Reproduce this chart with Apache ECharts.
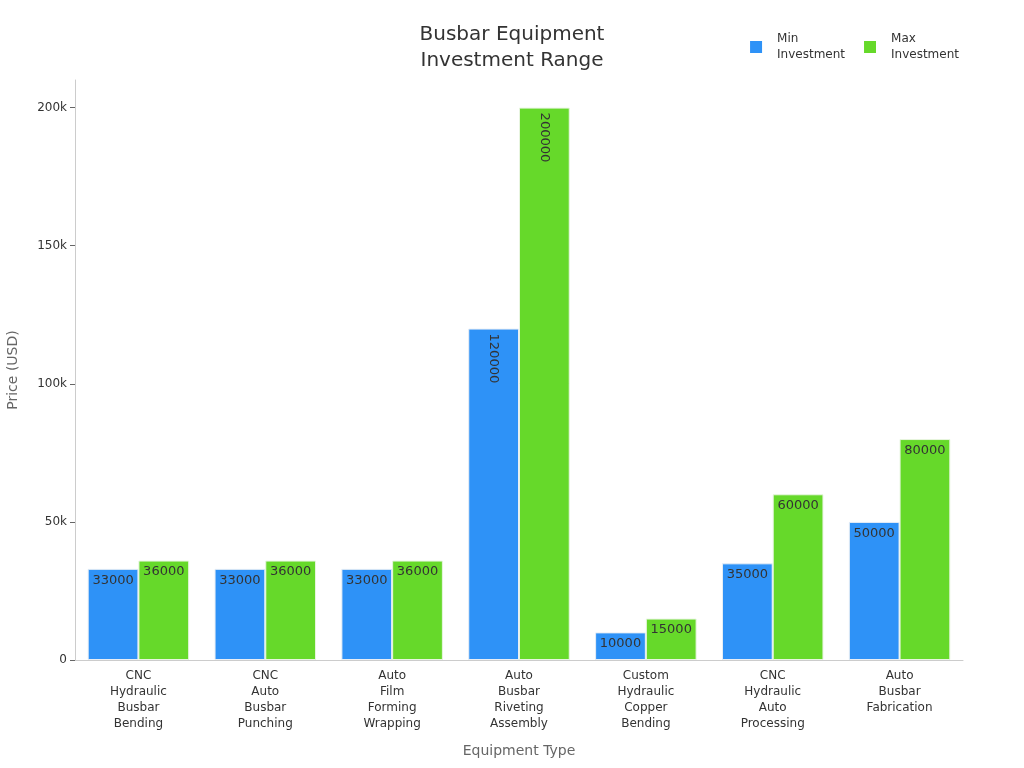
<!DOCTYPE html>
<html>
<head>
<meta charset="utf-8">
<script src="https://cdn.jsdelivr.net/npm/echarts@6/dist/echarts.min.js"></script>
<style>html,body{margin:0;padding:0;background:#fff}#c{width:1024px;height:768px}</style>
</head>
<body>
<div id="c"></div>
<script>
const categories = [
  "CNC Hydraulic Busbar Bending",
  "CNC Auto Busbar Punching",
  "Auto Film Forming Wrapping",
  "Auto Busbar Riveting Assembly",
  "Custom Hydraulic Copper Bending",
  "CNC Hydraulic Auto Processing",
  "Auto Busbar Fabrication"
];
const minInvestment = [33000, 33000, 33000, 120000, 10000, 35000, 50000];
const maxInvestment = [36000, 36000, 36000, 200000, 15000, 60000, 80000];
const seriesNames = ["Min Investment", "Max Investment"];
const yTickValues = [0, 50000, 100000, 150000, 200000];
const yMax = 210000;

const font = "DejaVu Sans";
function toItems(arr) {
  return arr.map(v => {
    if (v >= 100000) {
      return { value: v, label: { rotate: -90, align: 'left', verticalAlign: 'middle', distance: 5 } };
    }
    return { value: v };
  });
}
const chart = echarts.init(document.getElementById('c'));
chart.setOption({
  backgroundColor: '#fff',
  textStyle: { fontFamily: font },
  title: {
    text: 'Busbar Equipment\nInvestment Range',
    left: 'center', top: 17,
    textStyle: { fontFamily: font, fontSize: 20, fontWeight: 'normal', color: '#333', lineHeight: 26 }
  },
  legend: {
    data: seriesNames,
    right: 60, top: 26,
    icon: 'rect', itemWidth: 12, itemHeight: 12, itemGap: 19,
    itemStyle: { borderWidth: 0 },
    formatter: n => n.replace(' ', '\n'),
    textStyle: { fontFamily: font, fontSize: 12, color: '#333', lineHeight: 16, padding: [0, 0, 0, 10] }
  },
  grid: { left: 75, right: 61, top: 80, bottom: 108, outerBoundsMode: 'none', containLabel: false },
  xAxis: {
    type: 'category',
    data: categories,
    name: 'Equipment Type',
    nameLocation: 'middle', nameGap: 84,
    nameTextStyle: { fontFamily: font, fontSize: 14, color: '#666' },
    axisLine: { lineStyle: { color: '#ccc' } },
    axisTick: { alignWithLabel: true, lineStyle: { color: '#666' } },
    axisLabel: { interval: 0, formatter: v => v.split(' ').join('\n'), color: '#333', fontSize: 12, lineHeight: 16, fontFamily: font }
  },
  yAxis: {
    type: 'value',
    min: 0, max: yMax,
    name: 'Price (USD)',
    nameLocation: 'middle', nameGap: 55,
    nameTextStyle: { fontFamily: font, fontSize: 14, color: '#666' },
    axisLine: { show: true, lineStyle: { color: '#ccc' } },
    axisTick: { show: true, customValues: yTickValues, lineStyle: { color: '#666' } },
    splitLine: { show: false },
    axisLabel: { customValues: yTickValues, color: '#333', fontSize: 12, fontFamily: font, formatter: v => v === 0 ? '0' : (v / 1000) + 'k' }
  },
  series: [
    {
      name: seriesNames[0], type: 'bar', data: toItems(minInvestment),
      barGap: '0%', barCategoryGap: '20%',
      itemStyle: { color: '#2e92f7', borderColor: '#e8eef5', borderWidth: 1 },
      label: { show: true, position: 'insideTop', color: '#333', fontSize: 13, fontFamily: font }
    },
    {
      name: seriesNames[1], type: 'bar', data: toItems(maxInvestment),
      itemStyle: { color: '#66d92a', borderColor: '#e8f5e0', borderWidth: 1 },
      label: { show: true, position: 'insideTop', color: '#333', fontSize: 13, fontFamily: font }
    }
  ]
});
</script>
</body>
</html>
